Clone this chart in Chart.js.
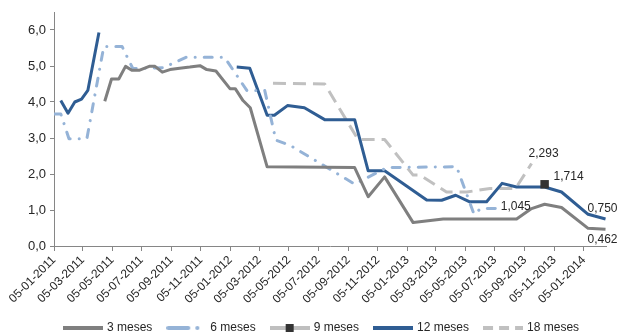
<!DOCTYPE html>
<html>
<head>
<meta charset="utf-8">
<script src="https://cdn.jsdelivr.net/npm/chart.js@4.4.1/dist/chart.umd.min.js"></script>
<style>
  html, body { margin: 0; padding: 0; background: #fff; }
  #wrap { width: 617px; height: 333px; }
</style>
</head>
<body>
<div id="wrap"><canvas id="chart"></canvas></div>
<script>
// Axis labels, one every two months
const tickLabels = ['05-01-2011', '05-03-2011', '05-05-2011', '05-07-2011', '05-09-2011', '05-11-2011',
    '05-01-2012', '05-03-2012', '05-05-2012', '05-07-2012', '05-09-2012', '05-11-2012',
    '05-01-2013', '05-03-2013', '05-05-2013', '05-07-2013', '05-09-2013', '05-11-2013', '05-01-2014'];
const axisStart = '2011-01-05';
const axisEnd = '2014-02-20';
const yTicks = [0, 1, 2, 3, 4, 5, 6];

const seriesNames = ['3 meses', '6 meses', '9 meses', '12 meses', '18 meses'];

// [date, yield %]; a null value breaks the line
const rates3m = [
    ['2011-04-20', 4.02], ['2011-05-04', 4.64], ['2011-05-19', 4.64], ['2011-06-02', 4.99],
    ['2011-06-15', 4.88], ['2011-06-30', 4.88], ['2011-07-21', 4.99], ['2011-08-02', 4.99],
    ['2011-08-17', 4.83], ['2011-09-02', 4.90], ['2011-09-22', 4.94], ['2011-10-13', 4.97],
    ['2011-11-03', 5.01], ['2011-11-17', 4.90], ['2011-12-06', 4.86], ['2012-01-04', 4.37],
    ['2012-01-15', 4.37], ['2012-01-31', 4.04], ['2012-02-15', 3.84], ['2012-03-21', 2.20],
    ['2012-09-18', 2.18], ['2012-10-16', 1.37], ['2012-11-19', 1.92], ['2013-01-17', 0.65],
    ['2013-03-20', 0.75], ['2013-08-19', 0.75], ['2013-09-19', 1.04], ['2013-10-16', 1.16],
    ['2013-11-20', 1.07], ['2014-01-14', 0.49], ['2014-02-19', 0.462]
];
const rates6m = [
    ['2011-01-05', 3.67], ['2011-01-19', 3.67], ['2011-02-05', 2.98], ['2011-03-14', 2.98],
    ['2011-04-18', 5.54], ['2011-05-26', 5.54], ['2011-06-17', 4.93], ['2011-08-19', 4.95],
    ['2011-10-05', 5.24], ['2011-12-24', 5.24], ['2012-02-08', 4.32], ['2012-03-16', 4.32],
    ['2012-04-08', 2.94], ['2012-05-07', 2.80], ['2012-09-18', 1.72], ['2012-11-24', 2.18],
    ['2013-04-17', 2.20], ['2013-05-23', 0.88], ['2013-06-06', 1.04], ['2013-07-09', 1.045]
];
const rates9m = [
    ['2013-10-16', 1.714]
];
const rates12m = [
    ['2011-01-19', 4.04], ['2011-02-03', 3.69], ['2011-02-17', 4.00], ['2011-03-03', 4.08],
    ['2011-03-16', 4.32], ['2011-04-08', 5.93], ['2011-07-01', null], ['2012-01-18', 4.97],
    ['2012-02-14', 4.94], ['2012-03-21', 3.63], ['2012-04-05', 3.63], ['2012-05-02', 3.90],
    ['2012-06-06', 3.84], ['2012-07-18', 3.51], ['2012-09-18', 3.51], ['2012-10-16', 2.09],
    ['2012-11-19', 2.09], ['2013-02-14', 1.28], ['2013-03-17', 1.27], ['2013-04-15', 1.41],
    ['2013-05-13', 1.23], ['2013-06-18', 1.23], ['2013-07-20', 1.74], ['2013-08-19', 1.64],
    ['2013-10-16', 1.64], ['2013-11-20', 1.50], ['2014-01-14', 0.88], ['2014-02-19', 0.750]
];
const rates18m = [
    ['2012-04-02', 4.52], ['2012-07-18', 4.50], ['2012-09-25', 2.96], ['2012-11-19', 2.96],
    ['2013-01-17', 1.97], ['2013-01-31', 1.97], ['2013-03-27', 1.50], ['2013-05-08', 1.50],
    ['2013-06-25', 1.60], ['2013-08-17', 1.60], ['2013-09-19', 2.293]
];

const FONT = "'Liberation Sans', Arial, sans-serif";
const TEXT = '#262626';
const AXIS = '#868686';

Chart.defaults.font.family = FONT;
Chart.defaults.color = TEXT;

// days since the first axis label
function dayOf(iso) {
    return (Date.parse(iso) - Date.parse(axisStart)) / 86400000;
}
function labelToIso(label) {
    const [d, m, y] = label.split('-');
    return `${y}-${m}-${d}`;
}
function toPoints(series) {
    return series.map(([date, value]) => ({ x: dayOf(date), y: value }));
}

// Line samples used as legend symbols
function makeSample(color, dash, cap, marker) {
    const c = document.createElement('canvas');
    c.width = 40;
    c.height = 10;
    const g = c.getContext('2d');
    g.strokeStyle = color;
    g.lineWidth = 4;
    g.lineCap = cap;
    g.setLineDash(dash);
    g.beginPath();
    g.moveTo(cap === 'round' ? 2 : 0, 5);
    g.lineTo(40, 5);
    g.stroke();
    if (marker) {
        g.fillStyle = marker;
        g.fillRect(16, 1, 8, 8);
    }
    return c;
}

const legendSamples = [
    makeSample('#7f7f7f', [], 'butt'),
    makeSample('#95b3d7', [20, 9, 0.1, 9], 'round'),
    makeSample('#bfbfbf', [], 'butt', '#333333'),
    makeSample('#2f5d93', [], 'butt'),
    makeSample('#c0c0c0', [10, 6], 'butt')
];

// Value labels at the end of the series: [dataset index, align, dx, dy]
const labelSpots = [
    [0, 'center', -3, 10],
    [1, 'left', 4, -2],
    [2, 'left', 9, -8],
    [3, 'center', -3, -10],
    [4, 'left', -3, -10]
];

const valueLabels = {
    id: 'valueLabels',
    afterDatasetsDraw(chart) {
        const ctx = chart.ctx;
        ctx.save();
        ctx.font = `12px ${FONT}`;
        ctx.fillStyle = TEXT;
        ctx.textBaseline = 'middle';
        labelSpots.forEach(([index, align, dx, dy]) => {
            const points = chart.getDatasetMeta(index).data;
            const values = chart.data.datasets[index].data;
            const last = points.length - 1;
            ctx.textAlign = align;
            ctx.fillText(values[last].y.toFixed(3).replace('.', ','), points[last].x + dx, points[last].y + dy);
        });
        ctx.restore();
    }
};

// Legend spacing between items is also its top padding; pull it down a bit
// and nudge the row to the right like the original
const legendFit = {
    id: 'legendFit',
    beforeInit(chart) {
        const legend = chart.legend;
        if (!legend) return;
        const fit = legend.fit;
        legend.fit = function () {
            fit.call(this);
            this.height -= 11;
        };
    },
    afterLayout(chart) {
        if (!chart.legend) return;
        chart.legend.left += 19;
        chart.legend.right += 19;
    }
};

function lineDataset(label, series, color, extra) {
    return Object.assign({
        label: label,
        data: toPoints(series),
        borderColor: color,
        backgroundColor: color,
        borderWidth: 3,
        borderJoinStyle: 'round',
        pointRadius: 0,
        pointHoverRadius: 0,
        tension: 0,
        spanGaps: false
    }, extra);
}

new Chart(document.getElementById('chart'), {
    type: 'line',
    data: {
        datasets: [
            lineDataset(seriesNames[0], rates3m, '#7f7f7f'),
            lineDataset(seriesNames[1], rates6m, '#95b3d7', { borderDash: [8, 9, 0.1, 9], borderCapStyle: 'round' }),
            lineDataset(seriesNames[2], rates9m, '#bfbfbf', {
                pointRadius: 6, pointStyle: 'rect', pointBackgroundColor: '#333333', pointBorderWidth: 0
            }),
            lineDataset(seriesNames[3], rates12m, '#2f5d93'),
            lineDataset(seriesNames[4], rates18m, '#c0c0c0', { borderDash: [13, 7] })
        ]
    },
    options: {
        responsive: true,
        maintainAspectRatio: false,
        animation: false,
        layout: { padding: { top: 12, right: 11, left: 0, bottom: 0 } },
        plugins: {
            title: { display: false },
            tooltip: { enabled: false },
            legend: {
                position: 'bottom',
                labels: {
                    usePointStyle: true,
                    pointStyleWidth: 36,
                    padding: 16,
                    color: TEXT,
                    font: { size: 12 },
                    generateLabels(chart) {
                        const items = Chart.defaults.plugins.legend.labels.generateLabels(chart);
                        return items.map((item, i) => Object.assign(item, { pointStyle: legendSamples[i] }));
                    }
                }
            }
        },
        scales: {
            x: {
                type: 'linear',
                min: 0,
                max: dayOf(axisEnd),
                afterBuildTicks: (scale) => {
                    scale.ticks = tickLabels.map(l => ({ value: dayOf(labelToIso(l)) }));
                },
                afterFit: (scale) => { scale.height = 60; },
                ticks: {
                    autoSkip: false,
                    minRotation: 45,
                    maxRotation: 45,
                    padding: 2,
                    font: { size: 12 },
                    callback: (value, index) => tickLabels[index]
                },
                grid: { drawOnChartArea: false, drawTicks: true, tickLength: 5, color: AXIS },
                border: { color: AXIS }
            },
            y: {
                min: 0,
                max: 6.5,
                afterBuildTicks: (scale) => {
                    scale.ticks = yTicks.map(v => ({ value: v }));
                },
                afterFit: (scale) => { scale.width = 54; },
                ticks: {
                    padding: 4,
                    font: { size: 13 },
                    callback: (value) => value.toFixed(1).replace('.', ',')
                },
                grid: { drawOnChartArea: false, drawTicks: true, tickLength: 4, color: AXIS },
                border: { color: AXIS }
            }
        }
    },
    plugins: [legendFit, valueLabels]
});
</script>
</body>
</html>
